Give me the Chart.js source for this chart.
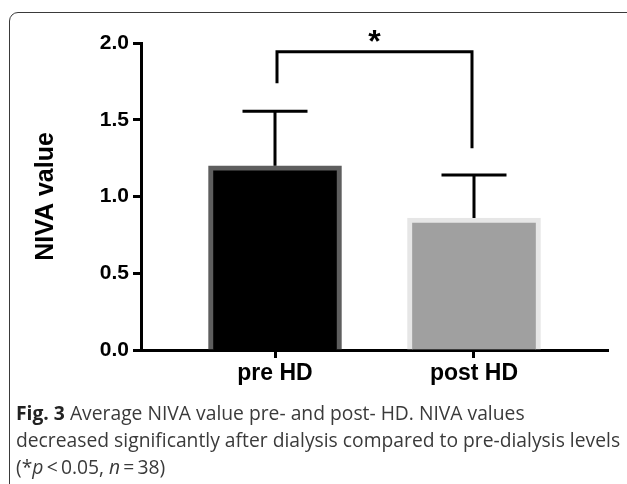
<!DOCTYPE html>
<html>
<head>
<meta charset="utf-8">
<script src="https://cdn.jsdelivr.net/npm/chart.js@4.4.0/dist/chart.umd.min.js"></script>
<style>
  html, body { margin:0; padding:0; background:#fff; width:627px; height:484px; overflow:hidden; }
  #frame { position:absolute; left:9px; top:12px; width:640px; height:520px; border:1.5px solid #3a3a3a; border-radius:9px; box-sizing:border-box; }
  #wrap { position:absolute; left:0; top:0; width:627px; height:400px; }
  #caption { position:absolute; left:16px; top:399px; width:611px; font-family:"Open Sans", sans-serif; font-size:19.3px; line-height:27px; color:#3a3a3a; white-space:nowrap; }
  #caption b { color:#222; }
</style>
</head>
<body>
<div id="frame"></div>
<div id="wrap"><canvas id="c" width="627" height="400"></canvas></div>
<div id="caption"><b>Fig. 3</b> Average NIVA value pre- and post- HD. NIVA values<br>decreased significantly after dialysis compared to pre-dialysis levels<br>(*<i>p</i>&thinsp;&lt;&thinsp;0.05, <i>n</i>&thinsp;=&thinsp;38)</div>
<script>
const categories = ['pre HD', 'post HD'];
const meanValues = [1.20, 0.86];
const sdValues = [0.355, 0.28];
const yTicks = [0, 0.5, 1.0, 1.5, 2.0];
const bracketLevels = [1.737, 1.943, 1.314]; // left end, top, right end
const significance = '*';

const fills = ['#000000', '#a0a0a0'];
const borders = ['#5e5e5e', '#e6e6e6'];

const overlay = {
  id: 'overlay',
  afterDatasetsDraw(chart) {
    const ctx = chart.ctx, x = chart.scales.x, y = chart.scales.y;
    ctx.save();
    ctx.strokeStyle = '#000';
    ctx.lineWidth = 3;
    ctx.lineCap = 'butt';
    meanValues.forEach((m, i) => {
      const cx = x.getPixelForValue(i);
      const top = y.getPixelForValue(m + sdValues[i]);
      const base = y.getPixelForValue(m);
      ctx.beginPath();
      ctx.moveTo(cx, base); ctx.lineTo(cx, top);
      ctx.moveTo(cx - 32.5, top); ctx.lineTo(cx + 32.5, top);
      ctx.stroke();
    });
    const lx = x.getPixelForValue(0) + 2, rx = x.getPixelForValue(1) - 2;
    ctx.beginPath();
    ctx.moveTo(lx, y.getPixelForValue(bracketLevels[0]));
    ctx.lineTo(lx, y.getPixelForValue(bracketLevels[1]));
    ctx.lineTo(rx, y.getPixelForValue(bracketLevels[1]));
    ctx.lineTo(rx, y.getPixelForValue(bracketLevels[2]));
    ctx.stroke();
    ctx.fillStyle = '#000';
    ctx.font = 'bold 32px "Liberation Sans", Arial, sans-serif';
    ctx.textAlign = 'center';
    ctx.textBaseline = 'middle';
    ctx.fillText(significance, (lx + rx) / 2, y.getPixelForValue(bracketLevels[1]) - 9);
    ctx.restore();
  }
};

new Chart(document.getElementById('c'), {
  type: 'bar',
  data: {
    datasets: [{
      data: meanValues.map((v, i) => ({ x: i, y: v })),
      backgroundColor: fills,
      borderColor: borders,
      borderWidth: 5,
      borderSkipped: 'start',
      barThickness: 133
    }]
  },
  options: {
    responsive: false,
    animation: false,
    layout: { padding: { left: 0, right: 19, top: 43, bottom: 0 } },
    plugins: { legend: { display: false }, tooltip: { enabled: false } },
    scales: {
      x: {
        type: 'linear',
        offset: false,
        min: -0.6734,
        max: 1.6734,
        afterBuildTicks(axis) { axis.ticks = categories.map((c, i) => ({ value: i })); },
        afterFit(axis) { axis.height = 50; },
        ticks: {
          callback: (v) => categories[v],
          color: '#000',
          font: { family: '"Liberation Sans", Arial, sans-serif', size: 23, weight: 'bold' },
          padding: 2,
          maxRotation: 0
        },
        grid: { offset: false, drawOnChartArea: false, tickLength: 8, tickWidth: 3, tickColor: '#000' },
        border: { display: true, color: '#000', width: 3 }
      },
      y: {
        min: 0,
        max: 2,
        afterBuildTicks(axis) { axis.ticks = yTicks.map(v => ({ value: v })); },
        afterFit(axis) { axis.width = 141; },
        ticks: {
          callback: (v) => Number(v).toFixed(1),
          color: '#000',
          font: { family: '"Liberation Sans", Arial, sans-serif', size: 21, weight: 'bold' },
          padding: 4
        },
        grid: { drawOnChartArea: false, tickLength: 8, tickWidth: 3, tickColor: '#000' },
        border: { display: true, color: '#000', width: 3 },
        title: {
          display: true,
          text: 'NIVA value',
          color: '#000',
          font: { family: '"Liberation Sans", Arial, sans-serif', size: 25, weight: 'bold' },
          padding: { top: 31, bottom: 0 }
        }
      }
    }
  },
  plugins: [overlay]
});
</script>
</body>
</html>
